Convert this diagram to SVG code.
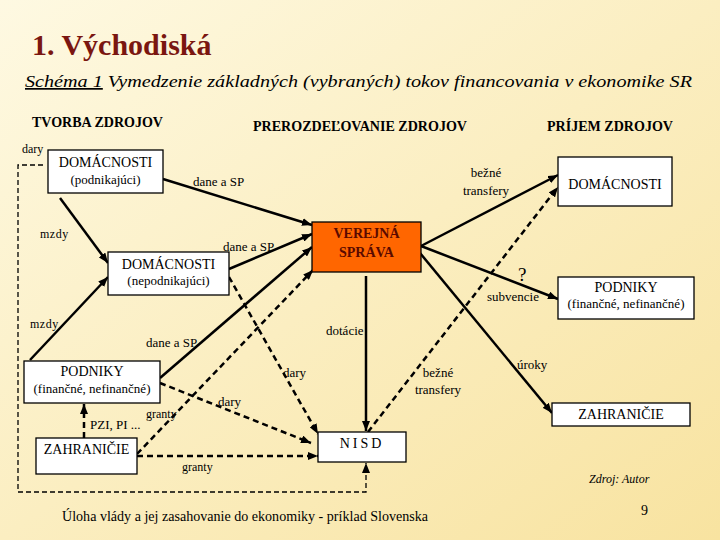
<svg xmlns="http://www.w3.org/2000/svg" width="720" height="540" viewBox="0 0 720 540">
<defs>
<linearGradient id="bg" x1="0" y1="0" x2="1" y2="1">
<stop offset="0" stop-color="#fef9e2"/>
<stop offset="1" stop-color="#f8e3a0"/>
</linearGradient>
<marker id="ah" markerUnits="userSpaceOnUse" markerWidth="10" markerHeight="8" refX="10" refY="4" orient="auto">
<path d="M0,0 L10,4 L0,8 z" fill="#000"/>
</marker>
<style>
text{font-family:'Liberation Serif','Tinos','Noto Serif','DejaVu Serif','FreeSerif','Times New Roman',Times,serif}
.t{fill:#000}
.box{fill:#fff;stroke:#000;stroke-width:1.3}
.s{fill:none;stroke:#000;stroke-width:2.5;marker-end:url(#ah)}
.d{fill:none;stroke:#000;stroke-width:2.5;stroke-dasharray:6,4;marker-end:url(#ah)}
.h{font-weight:bold;font-size:14px;fill:#000}
.bt{font-size:14px}
.st{font-size:13px}
.lb{font-size:13px}
</style>
</defs>
<rect width="720" height="540" fill="url(#bg)"/>

<text x="32" y="55" font-size="30" font-weight="bold" fill="#7a1610">1. Východiská</text>
<text class="t" x="25" y="87" font-size="17" font-style="italic" textLength="667" lengthAdjust="spacingAndGlyphs"><tspan text-decoration="underline">Schéma 1</tspan>  Vymedzenie základných (vybraných) tokov financovania v ekonomike SR</text>

<text class="h" x="32" y="127" textLength="131" lengthAdjust="spacingAndGlyphs">TVORBA ZDROJOV</text>
<text class="h" x="253" y="131" textLength="214" lengthAdjust="spacingAndGlyphs">PREROZDEĽOVANIE ZDROJOV</text>
<text class="h" x="547" y="131" textLength="126" lengthAdjust="spacingAndGlyphs">PRÍJEM ZDROJOV</text>

<g id="connectors">
<path class="s" d="M163,179 L312,225"/>
<path class="s" d="M60,198 L108,263"/>
<path class="s" d="M229,269 L312,234"/>
<path class="s" d="M30,360 L108,277"/>
<path class="s" d="M160,378 L312,247"/>
<path class="s" d="M366,276 L366,431"/>
<path class="s" d="M421,246 L558,175"/>
<path class="s" d="M421,246 L558,299"/>
<path class="s" d="M420,253 L552,413"/>
<path class="d" d="M229,277 L318,434"/>
<path class="d" d="M160,383 L311,443"/>
<path class="d" d="M137,454 L313,270"/>
<path class="d" d="M137,456 L318,456"/>
<path class="d" d="M84,438 L84,404"/>
<path class="d" d="M368,432 L558,187"/>
<path class="d" d="M43,165 H18 V492 H366 V463" style="stroke-width:1.3;stroke-dasharray:5,3"/>
</g>

<g id="dom-podnikajuci">
<rect class="box" x="48" y="150" width="115" height="43"/>
<text class="t bt" x="105.5" y="167" text-anchor="middle">DOMÁCNOSTI</text>
<text class="t st" x="105.5" y="184" text-anchor="middle">(podnikajúci)</text>
</g>
<g id="dom-nepodnikajuci">
<rect class="box" x="108" y="252" width="121" height="43"/>
<text class="t bt" x="168.5" y="269" text-anchor="middle">DOMÁCNOSTI</text>
<text class="t st" x="168.5" y="285" text-anchor="middle">(nepodnikajúci)</text>
</g>
<g id="podniky-left">
<rect class="box" x="24" y="361" width="136" height="42"/>
<text class="t bt" x="92" y="376" text-anchor="middle">PODNIKY</text>
<text class="t st" x="92" y="393" text-anchor="middle">(finančné, nefinančné)</text>
</g>
<g id="zahranicie-left">
<rect class="box" x="36" y="438" width="101" height="36"/>
<text class="t bt" x="86.5" y="454" text-anchor="middle">ZAHRANIČIE</text>
</g>
<g id="verejna-sprava">
<rect x="312" y="222" width="109" height="50" fill="#ff6600" stroke="#000" stroke-width="1.3"/>
<text x="366.5" y="238" text-anchor="middle" font-size="14" font-weight="bold" fill="#5a0a00">VEREJNÁ</text>
<text x="366.5" y="257" text-anchor="middle" font-size="14" font-weight="bold" fill="#5a0a00">SPRÁVA</text>
</g>
<g id="nisd">
<rect class="box" x="318" y="432" width="88" height="30"/>
<text class="t bt" x="362" y="448" text-anchor="middle" letter-spacing="3">NISD</text>
</g>
<g id="dom-right">
<rect class="box" x="558" y="157" width="114" height="49"/>
<text class="t bt" x="615" y="189" text-anchor="middle">DOMÁCNOSTI</text>
</g>
<g id="podniky-right">
<rect class="box" x="558" y="277" width="136" height="42"/>
<text class="t bt" x="626" y="292" text-anchor="middle">PODNIKY</text>
<text class="t st" x="626" y="308" text-anchor="middle">(finančné, nefinančné)</text>
</g>
<g id="zahranicie-right">
<rect class="box" x="552" y="403" width="138" height="23"/>
<text class="t bt" x="621" y="419" text-anchor="middle">ZAHRANIČIE</text>
</g>

<g id="labels">
<text class="t" x="22" y="153" font-size="12">dary</text>
<text class="t lb" x="193" y="186">dane a SP</text>
<text class="t" x="40" y="238" font-size="12" letter-spacing="0.5">mzdy</text>
<text class="t lb" x="223" y="251">dane a SP</text>
<text class="t" x="30" y="328" font-size="12" letter-spacing="0.5">mzdy</text>
<text class="t lb" x="146" y="347">dane a SP</text>
<text class="t lb" x="326" y="335">dotácie</text>
<text class="t lb" x="283" y="377">dary</text>
<text class="t lb" x="218" y="406">dary</text>
<text class="t" x="146" y="418" font-size="12">granty</text>
<text class="t lb" x="90" y="429">PZI, PI ...</text>
<text class="t" x="182" y="471" font-size="12">granty</text>
<text class="t lb" x="486" y="177" text-anchor="middle">bežné</text>
<text class="t lb" x="486" y="195" text-anchor="middle">transfery</text>
<text class="t" x="518" y="281" font-size="19">?</text>
<text class="t lb" x="487" y="301">subvencie</text>
<text class="t lb" x="517" y="369">úroky</text>
<text class="t lb" x="438" y="377" text-anchor="middle">bežné</text>
<text class="t lb" x="438" y="394" text-anchor="middle">transfery</text>
</g>

<text class="t" x="589" y="483" font-size="12" font-style="italic">Zdroj: Autor</text>
<text class="t" x="62" y="521" font-size="14" textLength="366" lengthAdjust="spacingAndGlyphs">Úloha  vlády a jej zasahovanie do ekonomiky - príklad Slovenska</text>
<text class="t" x="641" y="515" font-size="14">9</text>
</svg>
